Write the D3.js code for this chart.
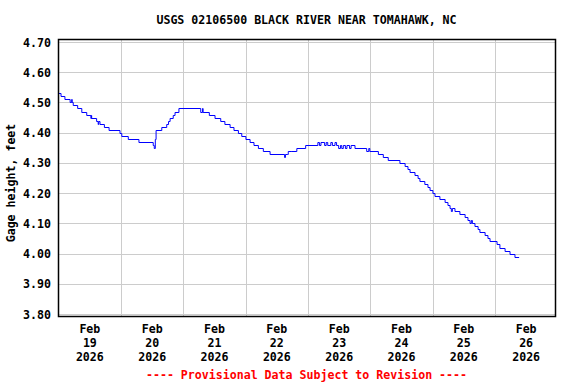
<!DOCTYPE html>
<html>
<head>
<meta charset="utf-8">
<script src="https://cdn.jsdelivr.net/npm/d3@7"></script>
<style>
  body { margin: 0; background: #fff; }
  text { font-family: "DejaVu Sans Mono", monospace; font-weight: bold; font-size: 11.6px; fill: #000; }
</style>
</head>
<body>
<div id="chart"></div>
<script>
// Gage height readings: hours after Feb 19 2026 00:00, feet
var hours = [0, 0.9, 2.4, 4.4, 5.0, 5.2, 5.6, 7.3, 8.9, 10.8, 12.4, 12.6, 12.7, 14.6, 15.2, 15.4, 15.9, 17.6, 19.4, 23.6, 24.3, 26.8, 30.9,
    36.4, 36.8, 37.2, 37.5, 39.7, 41.6, 42.3, 42.9, 44.1, 44.8, 46.3, 54.7, 55.4, 55.6, 58.0, 60.2, 62.4, 64.0, 66.0, 67.5,
    69.2, 70.5, 72.1, 73.7, 75.2, 76.9, 78.8, 81.4, 87.0, 87.3, 88.0, 88.4, 89.5, 91.7, 95.1,
    99.8, 100.4, 101.0, 102.4, 103.0, 103.6, 104.8, 105.4, 106.4, 107.0, 107.8, 108.5, 109.0, 109.6, 110.4, 111.0, 112.0, 112.6, 114.1,
    118.6, 119.4, 119.8, 123.1, 125.0, 126.9, 131.4, 133.4, 134.5, 135.3, 137.2, 138.4, 139.1, 141.0, 142.2, 143.0, 144.1, 144.9,
    146.8, 148.8, 149.9, 150.7, 151.2, 151.6, 152.6, 154.5, 156.5, 157.6, 158.4, 158.9, 159.3, 160.3, 161.5, 162.2, 164.2, 165.3,
    166.1, 168.8, 169.9, 171.9, 173.8, 175.7, 177.3];
var gage = [4.53, 4.52, 4.51, 4.50, 4.51, 4.50, 4.49, 4.48, 4.47, 4.46, 4.45, 4.46, 4.45, 4.44, 4.43, 4.44, 4.43, 4.42, 4.41, 4.40, 4.39, 4.38, 4.37,
    4.36, 4.35, 4.38, 4.41, 4.42, 4.43, 4.44, 4.45, 4.46, 4.47, 4.48, 4.47, 4.48, 4.47, 4.46, 4.45, 4.44, 4.43, 4.42, 4.41,
    4.40, 4.39, 4.38, 4.37, 4.36, 4.35, 4.34, 4.33, 4.32, 4.33, 4.33, 4.34, 4.34, 4.35, 4.36,
    4.37, 4.36, 4.37, 4.36, 4.37, 4.36, 4.37, 4.36, 4.37, 4.36, 4.35, 4.36, 4.35, 4.36, 4.35, 4.36, 4.35, 4.36, 4.35,
    4.34, 4.35, 4.34, 4.33, 4.32, 4.31, 4.30, 4.29, 4.28, 4.27, 4.26, 4.25, 4.24, 4.23, 4.22, 4.21, 4.20, 4.19,
    4.18, 4.17, 4.16, 4.15, 4.14, 4.15, 4.14, 4.13, 4.12, 4.11, 4.10, 4.11, 4.10, 4.09, 4.08, 4.07, 4.06, 4.05,
    4.04, 4.03, 4.02, 4.01, 4.00, 3.99, 3.99];
var yTicks = [3.80, 3.90, 4.00, 4.10, 4.20, 4.30, 4.40, 4.50, 4.60, 4.70];
var dayLabels = ["19", "20", "21", "22", "23", "24", "25", "26"];
var title = "USGS 02106500 BLACK RIVER NEAR TOMAHAWK, NC";
var yTitle = "Gage height, feet";
var footer = "---- Provisional Data Subject to Revision ----";

var W = 576, H = 384;
var start = new Date(2026, 1, 19);
var data = hours.map(function(h, i) {
    return { t: new Date(start.getTime() + h * 3600000), v: gage[i] };
});

var svg = d3.select("#chart").append("svg")
    .attr("width", W).attr("height", H);

var x = d3.scaleTime()
    .domain([start, new Date(2026, 1, 27)])
    .range([58.7, 557.3]);
var y = d3.scaleLinear()
    .domain([3.80, 4.70])
    .range([314, 42]);

var frame = { left: 58, right: 555, top: 39, bottom: 316 };

// grid
var days = d3.range(1, 8).map(function(i) { return d3.timeDay.offset(start, i); });
svg.append("g").selectAll("line").data(days).enter().append("line")
    .attr("x1", function(d) { return Math.round(x(d)) + 0.5; })
    .attr("x2", function(d) { return Math.round(x(d)) + 0.5; })
    .attr("y1", frame.top).attr("y2", frame.bottom)
    .attr("stroke", "#cccccc");
svg.append("g").selectAll("line").data(yTicks).enter().append("line")
    .attr("x1", frame.left).attr("x2", frame.right)
    .attr("y1", function(d) { return Math.round(y(d)) + 0.5; })
    .attr("y2", function(d) { return Math.round(y(d)) + 0.5; })
    .attr("stroke", "#cccccc");

// data line
var line = d3.line()
    .x(function(d) { return x(d.t); })
    .y(function(d) { return Math.round(y(d.v)) + 0.5; })
    .curve(d3.curveStepAfter);
svg.append("path")
    .datum(data)
    .attr("d", line)
    .attr("fill", "none")
    .attr("stroke", "#0000ff")
    .attr("stroke-width", 1);

// frame
svg.append("rect")
    .attr("x", frame.left + 0.5).attr("y", frame.top + 0.5)
    .attr("width", frame.right - frame.left).attr("height", frame.bottom - frame.top)
    .attr("fill", "none").attr("stroke", "#000").attr("stroke-width", 1.5);

// y axis labels
var yAxis = svg.append("g")
    .attr("transform", "translate(51,0)")
    .call(d3.axisLeft(y).tickValues(yTicks).tickSize(0).tickFormat(d3.format(".2f")));
yAxis.select(".domain").remove();
yAxis.selectAll("text").attr("x", 0).attr("dy", "0.35em")
    .style("font-family", "DejaVu Sans Mono").style("font-size", "11.6px").style("font-weight", "bold");

// x axis labels, three lines per day
var mids = dayLabels.map(function(d, i) { return d3.timeHour.offset(start, i * 24 + 12); });
var xl = svg.append("g").selectAll("text").data(mids).enter().append("text")
    .attr("text-anchor", "middle")
    .attr("x", function(d) { return x(d); })
    .attr("y", 333);
xl.append("tspan").attr("x", function(d) { return x(d); }).text("Feb");
xl.append("tspan").attr("x", function(d) { return x(d); }).attr("dy", 14)
    .text(function(d, i) { return dayLabels[i]; });
xl.append("tspan").attr("x", function(d) { return x(d); }).attr("dy", 14).text("2026");

// titles
svg.append("text").attr("x", 306.5).attr("y", 24).attr("text-anchor", "middle").text(title);
svg.append("text")
    .attr("transform", "translate(15,183) rotate(-90)")
    .attr("text-anchor", "middle").text(yTitle);
svg.append("text").attr("x", 306.5).attr("y", 379).attr("text-anchor", "middle")
    .style("fill", "#ff0000").text(footer);
</script>
</body>
</html>
